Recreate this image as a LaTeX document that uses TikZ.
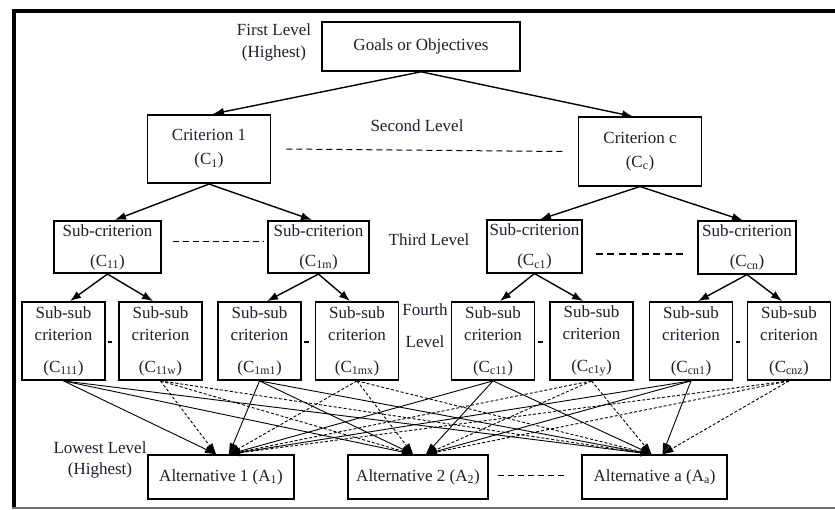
\documentclass[tikz,border=0pt]{standalone}
\usepackage{fontspec}
\setmainfont{Liberation Serif}
\usetikzlibrary{arrows.meta,calc}
\definecolor{ink}{RGB}{30,30,48}
\definecolor{rule}{RGB}{110,110,110}
\begin{document}
\begin{tikzpicture}[x=1pt,y=-1pt,
  box/.style={draw=black, line width=1.6pt, fill=white, inner sep=0pt,
              align=center, text=ink},
  goalbox/.style={box, minimum width=198pt, minimum height=49pt,
                  font=\fontsize{17}{22}\selectfont},
  critbox/.style={box, minimum width=123pt, minimum height=68.5pt,
                  font=\fontsize{17}{24}\selectfont},
  subbox/.style={box, minimum height=52.5pt,
                 font=\fontsize{17}{30}\selectfont},
  ssbox/.style={box, line width=1.8pt, minimum width=83pt, minimum height=78pt,
                font=\fontsize{17}{22}\selectfont},
  altbox/.style={box, minimum height=44pt, font=\fontsize{17}{22}\selectfont},
  lvl/.style={text=ink, align=center, inner sep=0pt},
  tarrow/.style={line width=1.4pt, -{Latex[length=11pt,width=8pt]}},
  xline/.style={line width=0.9pt, -{Triangle[length=11pt,width=7pt]}},
  xdash/.style={xline, dash pattern=on 3pt off 2pt},
  gapline/.style={line width=1pt, dash pattern=on 6pt off 4pt},
  gapbold/.style={line width=1.8pt, dash pattern=on 7pt off 4.5pt},
  minidash/.style={line width=2.6pt}]
\useasboundingbox (0,0) rectangle (835,510);

% frame
\draw[line width=4pt] (14,509) -- (14,11) -- (835,11);
\draw[rule, line width=1.5pt] (12,508) -- (835,508);

% first level
\node[goalbox] (G) at (421,46.5) {Goals or Objectives};
\node[lvl, font=\fontsize{17}{22}\selectfont] (L1) at (274,42.5) {First Level\\(Highest)};

% second level
\node[critbox] (K1) at (209,149) {Criterion 1\\(C\textsubscript{1})};
\node[critbox] (Kc) at (640,151.5) {Criterion c\\(C\textsubscript{c})};
\node[lvl, font=\fontsize{17}{22}\selectfont] (L2) at (417,126) {Second Level};

% third level
\node[subbox, minimum width=107pt] (S11) at (107.5,247) {Sub-criterion\\(C\textsubscript{11})};
\node[subbox, minimum width=101pt] (S1m) at (318.5,247) {Sub-criterion\\(C\textsubscript{1m})};
\node[subbox, minimum width=95pt]  (Sc1) at (534.5,246.5) {Sub-criterion\\(C\textsubscript{c1})};
\node[subbox, minimum width=98pt]  (Scn) at (747,247.5) {Sub-criterion\\(C\textsubscript{cn})};
\node[lvl, font=\fontsize{17}{22}\selectfont] (L3) at (429,240) {Third Level};

% fourth level
\node[ssbox] (T111) at (63.5,341)  {Sub-sub\\criterion\\[10pt](C\textsubscript{111})};
\node[ssbox] (T11w) at (160.5,341) {Sub-sub\\criterion\\[10pt](C\textsubscript{11w})};
\node[ssbox] (T1m1) at (259.5,341) {Sub-sub\\criterion\\[10pt](C\textsubscript{1m1})};
\node[ssbox] (T1mx) at (357,341)   {Sub-sub\\criterion\\[10pt](C\textsubscript{1mx})};
\node[ssbox] (Tc11) at (493,341)   {Sub-sub\\criterion\\[10pt](C\textsubscript{c11})};
\node[ssbox] (Tc1y) at (591.5,341) {Sub-sub\\criterion\\[10pt](C\textsubscript{c1y})};
\node[ssbox] (Tcn1) at (691,341)   {Sub-sub\\criterion\\[10pt](C\textsubscript{cn1})};
\node[ssbox] (Tcnz) at (789,341)   {Sub-sub\\criterion\\[10pt](C\textsubscript{cnz})};
\node[lvl, font=\fontsize{17}{32}\selectfont] (L4) at (425,326) {Fourth\\Level};

% lowest level
\node[altbox, minimum width=146pt] (A1) at (221,477)   {Alternative 1 (A\textsubscript{1})};
\node[altbox, minimum width=140pt] (A2) at (418,477)   {Alternative 2 (A\textsubscript{2})};
\node[altbox, minimum width=145pt] (Aa) at (654.5,477) {Alternative a (A\textsubscript{a})};
\node[lvl, font=\fontsize{17}{21}\selectfont] (L5) at (100,460) {Lowest Level\\(Highest)};

% tree arrows
\draw[tarrow] (G.south) -- ($(K1.north)+(4,0)$);
\draw[tarrow] (G.south) -- ($(Kc.north)+(-7,0)$);
\draw[tarrow] (K1.south) -- ($(S11.north)+(7.5,0)$);
\draw[tarrow] (K1.south) -- ($(S1m.north)+(-6.5,0)$);
\draw[tarrow] (Kc.south) -- ($(Sc1.north)+(5.5,0)$);
\draw[tarrow] (Kc.south) -- ($(Scn.north)+(-4,0)$);
\draw[tarrow] (S11.south) -- ($(T111.north)+(6.5,0)$);
\draw[tarrow] (S11.south) -- ($(T11w.north)+(-7.5,0)$);
\draw[tarrow] (S1m.south) -- ($(T1m1.north)+(7.5,0)$);
\draw[tarrow] (S1m.south) -- ($(T1mx.north)+(-7,0)$);
\draw[tarrow] (Sc1.south) -- ($(Tc11.north)+(7,0)$);
\draw[tarrow] (Sc1.south) -- ($(Tc1y.north)+(-8.5,0)$);
\draw[tarrow] (Scn.south) -- ($(Tcn1.north)+(7,0)$);
\draw[tarrow] (Scn.south) -- ($(Tcnz.north)+(-7,0)$);

% dashed links within a level
\draw[gapline] ($(K1.east)+(15,0)$) -- ($(Kc.west)+(-15,0)$);
\draw[gapline] ($(S11.east)+(11,-5)$) -- ($(S1m.west)+(-3,-5)$);
\draw[gapbold] ($(Sc1.east)+(13,7.5)$) -- ($(Scn.west)+(-10,6.5)$);
\draw[gapline] ($(A2.east)+(9,-2)$) -- ($(Aa.west)+(-14,-2)$);
\draw[minidash] ($(T111.east)+(2,1)$) -- ($(T11w.west)+(-6,1)$);
\draw[minidash] ($(T1m1.east)+(2,1)$) -- ($(T1mx.west)+(-6,1)$);
\draw[minidash] ($(Tc11.east)+(3,1)$) -- ($(Tc1y.west)+(-6,1)$);
\draw[minidash] ($(Tcn1.east)+(2.5,1)$) -- ($(Tcnz.west)+(-7,1)$);

% landing points on the alternatives
\coordinate (A1l) at ($(A1.north)+(-5,0)$);
\coordinate (A1r) at ($(A1.north)+(8,0)$);
\coordinate (A2l) at ($(A2.north)+(-5,0)$);
\coordinate (A2r) at ($(A2.north)+(8,0)$);
\coordinate (Aal) at ($(Aa.north)+(-3,0)$);
\coordinate (Aar) at ($(Aa.north)+(8,0)$);

% every sub-sub criterion feeds every alternative
\foreach \s/\t in {T111/A1l,T111/A2l,T111/Aal,
                   T1m1/A1r,T1m1/A2l,T1m1/Aal,
                   Tc11/A1r,Tc11/A2r,Tc11/Aal,
                   Tcn1/A1r,Tcn1/A2r,Tcn1/Aar}
  \draw[xline] (\s.south) -- (\t);
\foreach \s/\t in {T11w/A1l,T11w/A2l,T11w/Aal,
                   T1mx/A1r,T1mx/A2l,T1mx/Aal,
                   Tc1y/A1r,Tc1y/A2r,Tc1y/Aal,
                   Tcnz/A1r,Tcnz/A2r,Tcnz/Aar}
  \draw[xdash] (\s.south) -- (\t);
\end{tikzpicture}
\end{document}
